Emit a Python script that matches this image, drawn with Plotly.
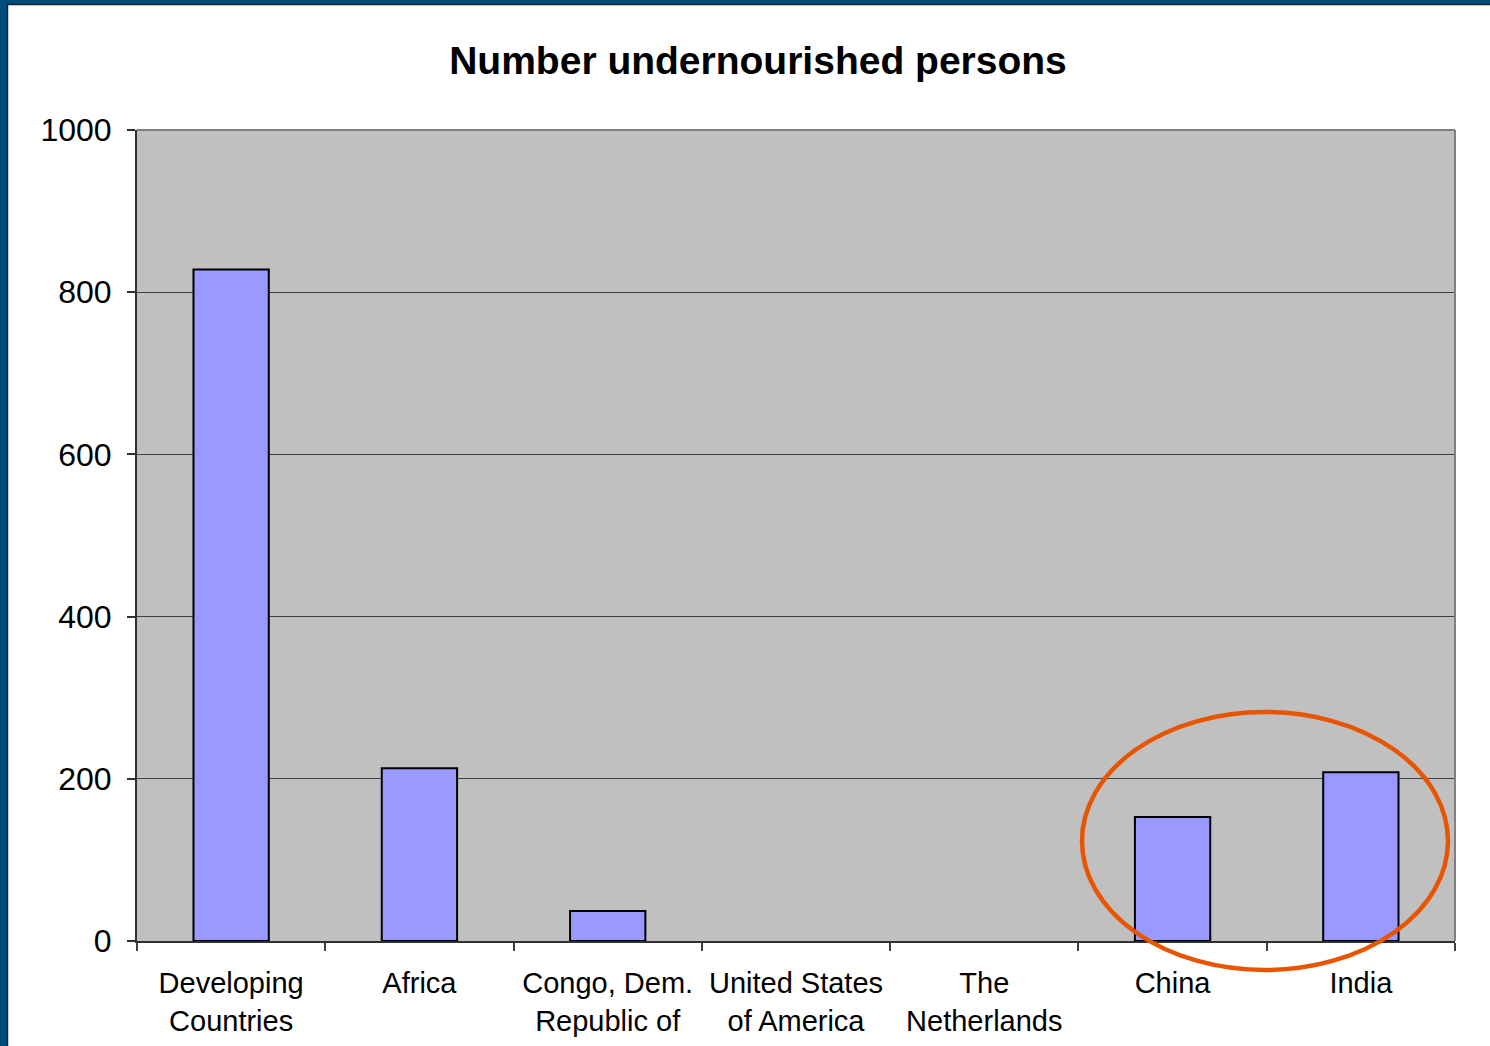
import plotly.graph_objects as go

categories = ["Developing<br>Countries", "Africa", "Congo, Dem.<br>Republic of",
              "United States<br>of America", "The<br>Netherlands", "China", "India"]
values = [828, 213, 37, 0, 0, 153, 208]
y_ticks = [0, 200, 400, 600, 800, 1000]
title_text = "Number undernourished persons"

W, H = 1490, 1046
L, R, T, B = 137, 35, 130, 105
pw, ph = W - L - R, H - T - B


def px_x(p):
    return (p - L) / pw


def px_y(p):
    return (H - B - p) / ph


fig = go.Figure(go.Bar(
    x=categories, y=values,
    marker=dict(color="#9999FF",
                line=dict(color="black", width=[2 if v > 0 else 0 for v in values])),
    width=0.4,
))

shapes = [
    dict(type="line", xref="paper", yref="paper", x0=0, x1=1, y0=1, y1=1,
         line=dict(color="#808080", width=2), layer="above"),
    dict(type="line", xref="paper", yref="paper", x0=1, x1=1, y0=0, y1=1,
         line=dict(color="#808080", width=2), layer="above"),
    dict(type="rect", xref="paper", yref="paper", x0=px_x(0), x1=px_x(7),
         y0=px_y(H), y1=px_y(0), fillcolor="#004C7E", line=dict(width=0), layer="above"),
    dict(type="rect", xref="paper", yref="paper", x0=px_x(0), x1=px_x(W),
         y0=px_y(4), y1=px_y(0), fillcolor="#004C7E", line=dict(width=0), layer="above"),
    dict(type="line", xref="paper", yref="paper", x0=px_x(7), x1=px_x(W),
         y0=px_y(4.5), y1=px_y(4.5), line=dict(color="#222222", width=1.5), layer="above"),
    dict(type="line", xref="paper", yref="paper", x0=px_x(7.5), x1=px_x(7.5),
         y0=px_y(H), y1=px_y(4), line=dict(color="#222222", width=1.5), layer="above"),
    dict(type="circle", xref="paper", yref="paper",
         x0=px_x(1082), x1=px_x(1448), y0=px_y(970), y1=px_y(712),
         line=dict(color="#E85500", width=4.5), layer="above"),
]

fig.update_layout(
    width=W, height=H,
    margin=dict(l=L, r=R, t=T, b=B),
    paper_bgcolor="white",
    plot_bgcolor="#C0C0C0",
    font=dict(family="Liberation Sans, Arial, sans-serif", color="black"),
    title=dict(text="<b>" + title_text + "</b>", x=758 / W, xanchor="center",
               y=1 - 60 / H, yanchor="middle",
               font=dict(size=39, color="black")),
    showlegend=False,
    shapes=shapes,
    bargap=0.6,
)

fig.update_xaxes(
    type="category",
    range=[-0.5, 6.5],
    automargin=False,
    tickson="boundaries",
    ticks="outside", ticklen=8, tickcolor="#404040", tickwidth=1.5,
    showline=True, linecolor="#303030", linewidth=2,
    showgrid=False,
    tickfont=dict(size=29, color="black"),
    ticklabelstandoff=15,
)
fig.update_yaxes(
    range=[0, 1000],
    automargin=False,
    tickvals=y_ticks,
    ticks="outside", ticklen=8, tickcolor="#303030", tickwidth=1.5,
    showline=True, linecolor="#303030", linewidth=2,
    showgrid=True, gridcolor="#404040", gridwidth=1,
    zeroline=False,
    tickfont=dict(size=32, color="black"),
    ticklabelstandoff=9,
)

fig.write_html("out.html")
